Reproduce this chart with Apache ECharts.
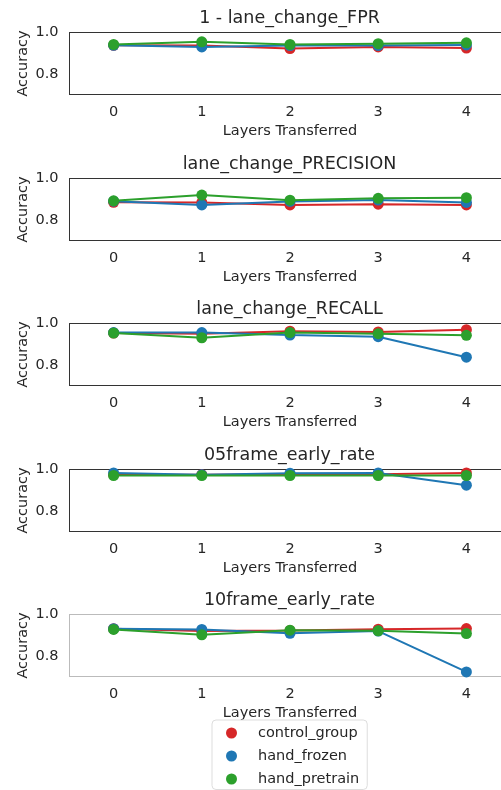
<!DOCTYPE html>
<html>
<head>
<meta charset="utf-8">
<script src="https://cdn.jsdelivr.net/npm/echarts@6/dist/echarts.min.js"></script>
<style>html,body{margin:0;padding:0;background:#fff;}#c{width:501px;height:790px;}</style>
</head>
<body>
<div id="c"></div>
<script>
const categories = ['0', '1', '2', '3', '4'];
const panelTitles = ['1 - lane_change_FPR', 'lane_change_PRECISION', 'lane_change_RECALL', '05frame_early_rate', '10frame_early_rate'];
const seriesNames = ['control_group', 'hand_frozen', 'hand_pretrain'];
const seriesColors = ['#d62728', '#1f77b4', '#2ca02c'];
const yTickLabels = ['0.8', '1.0'];

// values per panel: [control_group, hand_frozen, hand_pretrain]
const fprControl   = [0.938, 0.937, 0.922, 0.930, 0.925];
const fprFrozen    = [0.938, 0.930, 0.937, 0.937, 0.940];
const fprPretrain  = [0.942, 0.955, 0.942, 0.946, 0.950];

const precControl  = [0.885, 0.884, 0.872, 0.876, 0.872];
const precFrozen   = [0.890, 0.872, 0.889, 0.896, 0.884];
const precPretrain = [0.892, 0.920, 0.895, 0.904, 0.907];

const recControl   = [0.954, 0.950, 0.963, 0.959, 0.970];
const recFrozen    = [0.956, 0.956, 0.944, 0.936, 0.837];
const recPretrain  = [0.954, 0.931, 0.956, 0.951, 0.943];

const f05Control   = [0.975, 0.975, 0.977, 0.977, 0.983];
const f05Frozen    = [0.983, 0.974, 0.982, 0.983, 0.924];
const f05Pretrain  = [0.971, 0.971, 0.971, 0.971, 0.971];

const f10Control   = [0.931, 0.920, 0.922, 0.929, 0.932];
const f10Frozen    = [0.931, 0.928, 0.909, 0.920, 0.722];
const f10Pretrain  = [0.928, 0.902, 0.924, 0.921, 0.908];

const panelData = [
  [fprControl, fprFrozen, fprPretrain],
  [precControl, precFrozen, precPretrain],
  [recControl, recFrozen, recPretrain],
  [f05Control, f05Frozen, f05Pretrain],
  [f10Control, f10Frozen, f10Pretrain]
];

const tops = [32, 178, 323, 469, 614];
const gLeft = 69.5, gWidth = 441, gHeight = 62;
const font = 'DejaVu Sans';
const txt = '#262626';
const fs = 14.5;

const grids = [], xAxes = [], yAxes = [], series = [], graphics = [];
tops.forEach((t, i) => {
  const frame = i === 4 ? '#bbbbbb' : '#333333';
  grids.push({left: gLeft, top: t + 0.5, width: gWidth, height: gHeight, outerBoundsMode: 'none', containLabel: false,
    show: true, borderColor: frame, borderWidth: 1, backgroundColor: 'transparent'});
  xAxes.push({
    type: 'category', gridIndex: i, data: categories, boundaryGap: true,
    axisLine: {show: true, lineStyle: {color: frame, width: 1}},
    axisTick: {show: false},
    axisLabel: {color: txt, fontFamily: font, fontSize: fs, margin: 10},
    name: 'Layers Transferred', nameLocation: 'middle', nameGap: 29.5, nameMoveOverlap: false,
    nameTextStyle: {color: txt, fontFamily: font, fontSize: fs},
    splitLine: {show: false}
  });
  yAxes.push({
    type: 'value', gridIndex: i, min: 0.7, max: 1.0, interval: 0.1,
    axisLine: {show: true, lineStyle: {color: frame, width: 1}},
    axisTick: {show: false},
    splitLine: {show: false},
    axisLabel: {
      color: txt, fontFamily: font, fontSize: fs, margin: 11,
      formatter: v => { const s = v.toFixed(1); return yTickLabels.indexOf(s) >= 0 ? s : ''; }
    },
    name: 'Accuracy', nameLocation: 'middle', nameGap: 39, nameRotate: 90, nameMoveOverlap: false,
    nameTextStyle: {color: txt, fontFamily: font, fontSize: fs}
  });
  seriesNames.forEach((n, k) => {
    series.push({
      type: 'line', name: n, xAxisIndex: i, yAxisIndex: i,
      data: panelData[i][k], symbol: 'circle', symbolSize: 11, showSymbol: true,
      itemStyle: {color: seriesColors[k]}, lineStyle: {color: seriesColors[k], width: 2},
      emphasis: {disabled: true}, z: 2 + k
    });
  });
  graphics.push({
    type: 'text', x: 69 + gWidth / 2, y: t - 13.5,
    style: {text: panelTitles[i], fill: txt, font: '17.5px "DejaVu Sans"', align: 'center', verticalAlign: 'middle'}
  });
});

const chart = echarts.init(document.getElementById('c'), null, {renderer: 'canvas'});
chart.setOption({
  animation: false,
  backgroundColor: '#ffffff',
  grid: grids, xAxis: xAxes, yAxis: yAxes, series: series,
  graphic: graphics,
  legend: {
    data: seriesNames, orient: 'vertical', left: 212, top: 720,
    icon: 'circle', itemWidth: 11, itemHeight: 11, itemGap: 8,
    padding: [5.5, 8, 3, 14],
    backgroundColor: '#ffffff', borderColor: '#dddddd', borderWidth: 1, borderRadius: 4,
    textStyle: {color: txt, fontFamily: font, fontSize: fs, padding: [0, 0, 0, 16]}
  }
});
</script>
</body>
</html>
